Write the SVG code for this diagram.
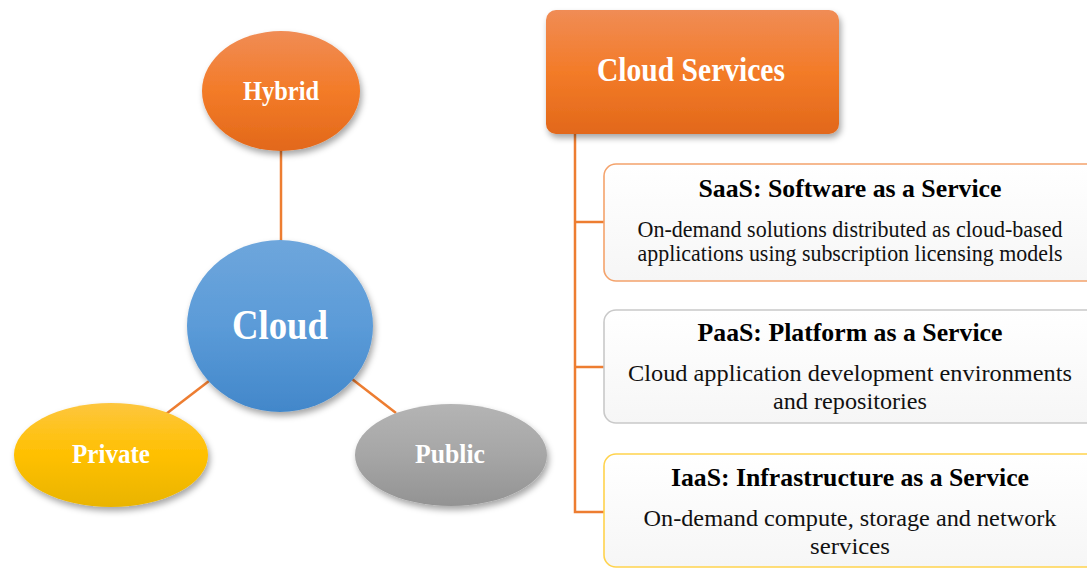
<svg xmlns="http://www.w3.org/2000/svg" width="1087" height="569" viewBox="0 0 1087 569">
  <style>
    .link { stroke: #ED7D31; stroke-width: 2.5; fill: none; }
    .label { font-family: "Liberation Serif", "Times New Roman", serif; font-weight: bold; fill: #FFFFFF; text-anchor: middle; }
    .title { font-family: "Liberation Serif", "Times New Roman", serif; font-weight: bold; font-size: 26px; fill: #000000; text-anchor: middle; }
    .body { font-family: "Liberation Serif", "Times New Roman", serif; font-size: 22.5px; fill: #111111; text-anchor: middle; }
    .card { fill: url(#cardFill); stroke-width: 1.6; }
  </style>
  <defs>
    <linearGradient id="orangeFill" x1="0" y1="0" x2="0" y2="1">
      <stop offset="0" stop-color="#F08C55"/>
      <stop offset="0.5" stop-color="#F37B28"/>
      <stop offset="1" stop-color="#E2681A"/>
    </linearGradient>
    <linearGradient id="blueFill" x1="0" y1="0" x2="0" y2="1">
      <stop offset="0" stop-color="#6EA6DC"/>
      <stop offset="0.5" stop-color="#5B9BD8"/>
      <stop offset="1" stop-color="#4287CA"/>
    </linearGradient>
    <linearGradient id="yellowFill" x1="0" y1="0" x2="0" y2="1">
      <stop offset="0" stop-color="#FDC63E"/>
      <stop offset="0.5" stop-color="#FFC000"/>
      <stop offset="1" stop-color="#E9B400"/>
    </linearGradient>
    <linearGradient id="grayFill" x1="0" y1="0" x2="0" y2="1">
      <stop offset="0" stop-color="#B4B4B4"/>
      <stop offset="0.5" stop-color="#A6A6A6"/>
      <stop offset="1" stop-color="#939393"/>
    </linearGradient>
    <linearGradient id="cardFill" x1="0" y1="0" x2="0" y2="1">
      <stop offset="0" stop-color="#FFFFFF"/>
      <stop offset="1" stop-color="#F6F6F6"/>
    </linearGradient>
    <filter id="shadow" x="-20%" y="-20%" width="140%" height="150%">
      <feDropShadow dx="2" dy="4" stdDeviation="3" flood-color="#000000" flood-opacity="0.35"/>
    </filter>
  </defs>

  <!-- connectors -->
  <g id="connectors">
    <line class="link" x1="281" y1="150" x2="281" y2="241"/>
    <line class="link" x1="166" y1="414" x2="209" y2="381"/>
    <line class="link" x1="352" y1="379" x2="396" y2="413"/>
    <polyline class="link" points="575,133 575,512 604,512"/>
    <line class="link" x1="575" y1="222" x2="604" y2="222"/>
    <line class="link" x1="575" y1="367" x2="604" y2="367"/>
  </g>

  <!-- deployment models -->
  <g id="hybrid">
    <ellipse cx="281" cy="91" rx="79" ry="60" fill="url(#orangeFill)" filter="url(#shadow)"/>
    <text class="label" x="281" y="100" font-size="28" textLength="76" lengthAdjust="spacingAndGlyphs">Hybrid</text>
  </g>
  <g id="cloud">
    <ellipse cx="280" cy="326" rx="93" ry="86" fill="url(#blueFill)" filter="url(#shadow)"/>
    <text class="label" x="280" y="339" font-size="43" textLength="96" lengthAdjust="spacingAndGlyphs">Cloud</text>
  </g>
  <g id="private">
    <ellipse cx="111" cy="455" rx="97" ry="52" fill="url(#yellowFill)" filter="url(#shadow)"/>
    <text class="label" x="111" y="463" font-size="28" textLength="78" lengthAdjust="spacingAndGlyphs">Private</text>
  </g>
  <g id="public">
    <ellipse cx="451" cy="455" rx="96" ry="51" fill="url(#grayFill)" filter="url(#shadow)"/>
    <text class="label" x="450" y="463" font-size="28" textLength="70" lengthAdjust="spacingAndGlyphs">Public</text>
  </g>

  <!-- service models -->
  <g id="cloud-services">
    <rect x="546" y="10" width="293" height="124" rx="10" fill="url(#orangeFill)" filter="url(#shadow)"/>
    <text class="label" x="691" y="81" font-size="33" textLength="188" lengthAdjust="spacingAndGlyphs">Cloud Services</text>
  </g>
  <g id="saas">
    <rect class="card" x="604" y="164" width="500" height="117" rx="12" stroke="#F4A36C"/>
    <text class="title" x="850" y="197" textLength="303" lengthAdjust="spacingAndGlyphs">SaaS: Software as a Service</text>
    <text class="body" x="850" y="237" textLength="425" lengthAdjust="spacingAndGlyphs">On-demand solutions distributed as cloud-based</text>
    <text class="body" x="850" y="261" textLength="425" lengthAdjust="spacingAndGlyphs">applications using subscription licensing models</text>
  </g>
  <g id="paas">
    <rect class="card" x="604" y="310" width="500" height="113" rx="12" stroke="#C9C9C9"/>
    <text class="title" x="850" y="341" textLength="305" lengthAdjust="spacingAndGlyphs">PaaS: Platform as a Service</text>
    <text class="body" x="850" y="381" textLength="444" lengthAdjust="spacingAndGlyphs">Cloud application development environments</text>
    <text class="body" x="850" y="409" textLength="154" lengthAdjust="spacingAndGlyphs">and repositories</text>
  </g>
  <g id="iaas">
    <rect class="card" x="604" y="454" width="500" height="113" rx="12" stroke="#FFD34D"/>
    <text class="title" x="850" y="486" textLength="358" lengthAdjust="spacingAndGlyphs">IaaS: Infrastructure  as a Service</text>
    <text class="body" x="850" y="526" textLength="413" lengthAdjust="spacingAndGlyphs">On-demand  compute, storage and network</text>
    <text class="body" x="850" y="554" textLength="80" lengthAdjust="spacingAndGlyphs">services</text>
  </g>
</svg>
